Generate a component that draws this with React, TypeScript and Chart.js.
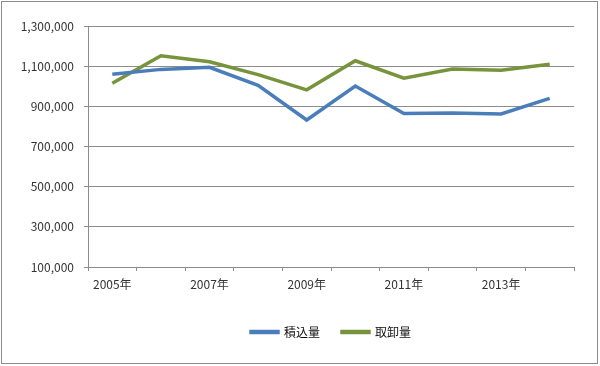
import React, { useEffect, useRef } from "react";
import { Chart, registerables } from "chart.js";

Chart.register(...registerables);

const years = ["2005年", "2006年", "2007年", "2008年", "2009年", "2010年", "2011年", "2012年", "2013年", "2014年"];
const loading = [1060000, 1084000, 1094000, 1005000, 832000, 1001000, 864000, 867000, 862000, 940000];
const unloading = [1015000, 1152000, 1122000, 1058000, 982000, 1127000, 1040000, 1086000, 1080000, 1110000];
const seriesNames = ["積込量", "取卸量"];

const FONT = "'Noto Sans CJK JP', 'DejaVu Sans', sans-serif";

const frame = {
  id: "frame",
  afterDraw(chart: any) {
    const ctx = chart.ctx;
    ctx.save();
    ctx.strokeStyle = "#8c8c8c";
    ctx.lineWidth = 1;
    ctx.strokeRect(1.5, 1.5, 596, 362);
    ctx.restore();
  },
};

export default function App() {
  const ref = useRef<HTMLCanvasElement>(null);
  useEffect(() => {
    document.body.style.margin = "0";
    const chart = new Chart(ref.current!, {
      type: "line",
      data: {
        labels: years,
        datasets: [
          {
            label: seriesNames[0],
            data: loading,
            borderColor: "#4a7ebb",
            backgroundColor: "#4a7ebb",
            borderWidth: 3.5,
            pointRadius: 0,
            tension: 0,
          },
          {
            label: seriesNames[1],
            data: unloading,
            borderColor: "#77933c",
            backgroundColor: "#77933c",
            borderWidth: 3.5,
            pointRadius: 0,
            tension: 0,
          },
        ],
      },
      options: {
        animation: false,
        responsive: false,
        layout: { padding: { left: 0, right: 26, top: 26, bottom: 18 } },
        plugins: {
          tooltip: { enabled: false },
          legend: {
            position: "bottom",
            fullSize: false,
            labels: {
              boxWidth: 27,
              boxHeight: 1,
              padding: 22,
              color: "#111",
              font: { family: FONT, size: 12 },
            },
          },
        },
        scales: {
          x: {
            offset: true,
            afterFit(scale: any) {
              scale.height = 37;
            },
            grid: {
              offset: true,
              drawOnChartArea: false,
              drawTicks: true,
              tickLength: 4,
              color: "#8c8c8c",
            },
            border: { color: "#8c8c8c" },
            ticks: {
              autoSkip: false,
              maxRotation: 0,
              padding: 6,
              color: "#333",
              font: { family: FONT, size: 12 },
              callback: (_v: any, i: number) => (i % 2 === 0 ? years[i] : ""),
            },
          },
          y: {
            min: 100000,
            max: 1300000,
            afterFit(scale: any) {
              scale.width = 88;
            },
            grid: { color: "#8c8c8c", tickLength: 4 },
            border: { color: "#8c8c8c" },
            ticks: {
              stepSize: 200000,
              padding: 10,
              color: "#333",
              font: { family: FONT, size: 12 },
              callback: (v: any) => Number(v).toLocaleString("en-US"),
            },
          },
        },
      },
      plugins: [frame],
    });
    return () => chart.destroy();
  }, []);
  return (
    <div style={{ width: 600, height: 366 }}>
      <canvas ref={ref} width={600} height={366} style={{ display: "block" }} />
    </div>
  );
}
